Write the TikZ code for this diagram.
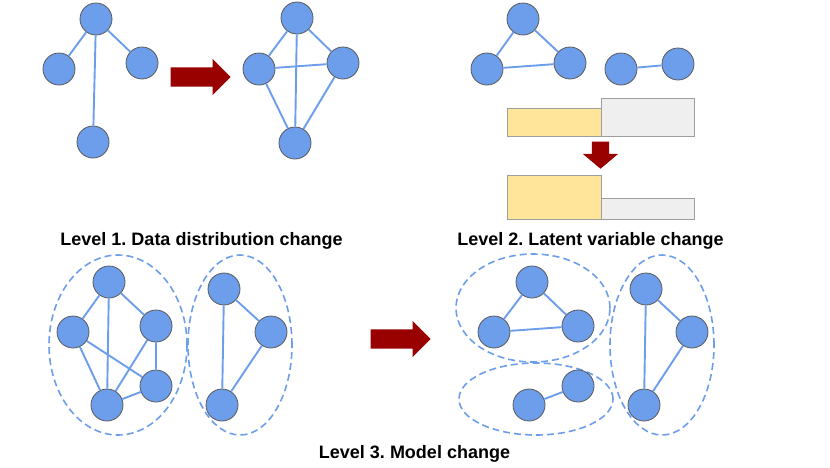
\documentclass[tikz,border=0pt]{standalone}
\usepackage{xcolor}
\usepackage{fontspec}
\setmainfont{Liberation Sans}
\usepackage{tikz}
\usetikzlibrary{shapes.geometric, shapes.arrows, positioning}
\definecolor{nodeblue}{HTML}{6D9EEB}
\definecolor{nodeline}{HTML}{595959}
\definecolor{arrowred}{HTML}{990000}
\definecolor{latentyellow}{HTML}{FFE599}
\definecolor{latentgray}{HTML}{EFEFEF}
\definecolor{barline}{HTML}{9E9E9E}

\tikzset{
  vtx/.style={circle, draw=nodeline, fill=nodeblue, minimum size=32pt, inner sep=0pt, line width=0.8pt},
  link/.style={draw=nodeblue, line width=1.9pt},
  cluster/.style={ellipse, draw=nodeblue, line width=1.6pt, dash pattern=on 7pt off 4pt, inner sep=0pt},
  bigarrow/.style={single arrow, fill=arrowred, draw=none, inner xsep=0pt, inner ysep=9.5pt, minimum height=60pt, single arrow head extend=8.5pt, anchor=tip},
  latentbar/.style={rectangle, draw=barline, line width=1pt, inner sep=0pt, anchor=north west},
  caption/.style={anchor=base, font=\fontsize{18}{21}\selectfont\bfseries},
}

\begin{document}
\frenchspacing
\begin{tikzpicture}[x=1pt, y=-1pt]
  \useasboundingbox (0,0) rectangle (830,467);

  % Level 1: graph before / after
  \node[vtx] (a1) at (96,19) {};
  \node[vtx] (a2) at (59,69) {};
  \node[vtx] (a3) at (142,63) {};
  \node[vtx] (a4) at (93,142) {};
  \draw[link] (a1) -- (a2) (a1) -- (a3) (a1) -- (a4);

  \node[bigarrow] (shift1) at (231,77) {};

  \node[vtx] (b1) at (297,18) {};
  \node[vtx] (b2) at (259,69) {};
  \node[vtx] (b3) at (343,63) {};
  \node[vtx] (b4) at (295,143) {};
  \draw[link] (b1) -- (b2) (b1) -- (b3) (b1) -- (b4)
              (b2) -- (b3) (b2) -- (b4) (b3) -- (b4);

  \node[caption] (cap1) at (201.5,245) {Level 1. Data distribution change};

  % Level 2: latent variables
  \node[vtx] (c1) at (523,19) {};
  \node[vtx] (c2) at (487,69) {};
  \node[vtx] (c3) at (570,63) {};
  \node[vtx] (c4) at (621,69) {};
  \node[vtx] (c5) at (678,64) {};
  \draw[link] (c1) -- (c2) (c1) -- (c3) (c2) -- (c3) (c4) -- (c5);

  \node[latentbar, fill=latentyellow, minimum width=94pt, minimum height=28pt] (y1) at (507,108) {};
  \node[latentbar, fill=latentgray, minimum width=93pt, minimum height=38pt] (g1) at (601,98) {};
  \node[bigarrow, rotate=-90, minimum height=27pt, inner ysep=8.5pt,
        single arrow head extend=9pt, single arrow tip angle=100] (shift2) at (600.5,169) {};
  \node[latentbar, fill=latentyellow, minimum width=94pt, minimum height=44pt] (y2) at (507,175) {};
  \node[latentbar, fill=latentgray, minimum width=93pt, minimum height=21pt] (g2) at (601,198) {};

  \node[caption] (cap2) at (590.5,245) {Level 2. Latent variable change};

  % Level 3: model change
  \node[cluster, minimum width=138pt, minimum height=180pt] (grpA) at (118,345) {};
  \node[cluster, minimum width=104pt, minimum height=180pt] (grpB) at (240,345) {};

  \node[vtx] (d1) at (109,282) {};
  \node[vtx] (d2) at (73,332) {};
  \node[vtx] (d3) at (156,326) {};
  \node[vtx] (d4) at (156,386) {};
  \node[vtx] (d5) at (107,405) {};
  \draw[link] (d1) -- (d2) (d1) -- (d5) (d1) -- (d3) (d2) -- (d5)
              (d2) -- (d4) (d3) -- (d5) (d3) -- (d4) (d4) -- (d5);

  \node[vtx] (e1) at (224,289) {};
  \node[vtx] (e2) at (271,332) {};
  \node[vtx] (e3) at (222,405) {};
  \draw[link] (e1) -- (e3) (e1) -- (e2) (e2) -- (e3);

  \node[bigarrow] (shift3) at (431,339) {};

  \node[cluster, minimum width=154pt, minimum height=108pt] (grpC) at (533,308) {};
  \node[cluster, minimum width=154pt, minimum height=72pt] (grpD) at (536,399) {};
  \node[cluster, minimum width=104pt, minimum height=180pt] (grpE) at (662,345) {};

  \node[vtx] (f1) at (532,282) {};
  \node[vtx] (f2) at (494,332) {};
  \node[vtx] (f3) at (578,326) {};
  \draw[link] (f1) -- (f2) (f1) -- (f3) (f2) -- (f3);

  \node[vtx] (h1) at (529,405) {};
  \node[vtx] (h2) at (578,386) {};
  \draw[link] (h1) -- (h2);

  \node[vtx] (k1) at (646,289) {};
  \node[vtx] (k2) at (692,332) {};
  \node[vtx] (k3) at (644,405) {};
  \draw[link] (k1) -- (k3) (k1) -- (k2) (k2) -- (k3);

  \node[caption] (cap3) at (414.5,458) {Level 3. Model change};
\end{tikzpicture}
\end{document}
